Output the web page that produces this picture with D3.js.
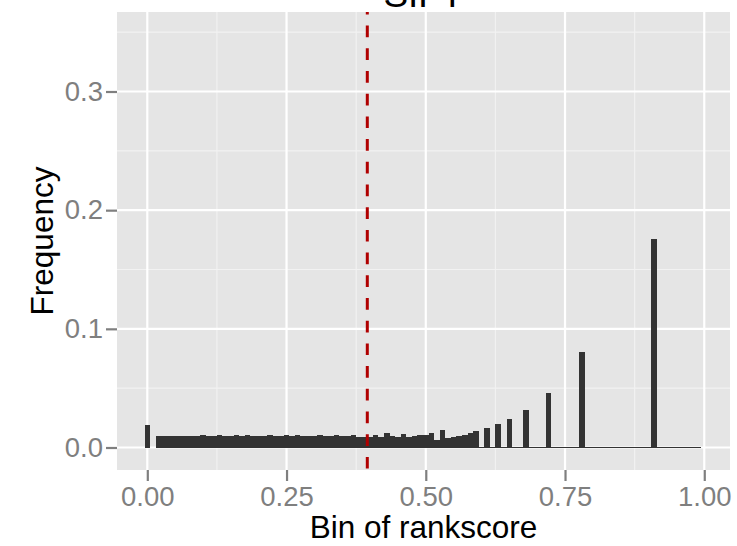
<!DOCTYPE html>
<html>
<head>
<meta charset="utf-8">
<script src="https://cdn.jsdelivr.net/npm/d3@7"></script>
<style>
  html, body { margin: 0; padding: 0; background: #ffffff; }
  svg { display: block; font-family: "Liberation Sans", Arial, Helvetica, sans-serif; }
</style>
</head>
<body>
<svg id="chart" width="737" height="546"></svg>
<script>
// Bin centres of the rankscore histogram (bin width 0.01)
const binCenters = [
  0.00,
  0.02, 0.03, 0.04, 0.05, 0.06, 0.07, 0.08, 0.09,
  0.10, 0.11, 0.12, 0.13, 0.14, 0.15, 0.16, 0.17, 0.18, 0.19,
  0.20, 0.21, 0.22, 0.23, 0.24, 0.25, 0.26, 0.27, 0.28, 0.29,
  0.30, 0.31, 0.32, 0.33, 0.34, 0.35, 0.36, 0.37, 0.38, 0.39,
  0.40, 0.41, 0.42, 0.43, 0.44, 0.45, 0.46, 0.47, 0.48, 0.49,
  0.50, 0.51, 0.52, 0.53, 0.54, 0.55, 0.56, 0.57, 0.58, 0.59,
  0.60, 0.61, 0.62, 0.63, 0.64, 0.65, 0.66, 0.67, 0.68, 0.69,
  0.70, 0.71, 0.72, 0.73, 0.74, 0.75, 0.76, 0.77, 0.78, 0.79,
  0.80, 0.81, 0.82, 0.83, 0.84, 0.85, 0.86, 0.87, 0.88, 0.89,
  0.90, 0.91, 0.92, 0.93, 0.94, 0.95, 0.96, 0.97, 0.98, 0.99
];

// Relative frequency of each bin
const frequency = [
  0.0190,
  0.0096, 0.0096, 0.0096, 0.0096, 0.0096, 0.0096, 0.0096, 0.0096,
  0.0106, 0.0096, 0.0096, 0.0106, 0.0096, 0.0096, 0.0106, 0.0096, 0.0106, 0.0096,
  0.0096, 0.0096, 0.0106, 0.0096, 0.0096, 0.0106, 0.0096, 0.0106, 0.0096, 0.0096,
  0.0096, 0.0106, 0.0096, 0.0096, 0.0106, 0.0096, 0.0096, 0.0106, 0.0092, 0.0088,
  0.0092, 0.0106, 0.0088, 0.0125, 0.0100, 0.0088, 0.0110, 0.0090, 0.0100, 0.0103,
  0.0103, 0.0125, 0.0063, 0.0147, 0.0077, 0.0088, 0.0097, 0.0108, 0.0125, 0.0139,
  0.0008, 0.0164, 0.0008, 0.0201, 0.0008, 0.0240, 0.0008, 0.0008, 0.0316, 0.0008,
  0.0008, 0.0008, 0.0459, 0.0008, 0.0008, 0.0008, 0.0008, 0.0008, 0.0805, 0.0008,
  0.0008, 0.0008, 0.0008, 0.0008, 0.0008, 0.0008, 0.0008, 0.0008, 0.0008, 0.0008,
  0.0008, 0.1757, 0.0008, 0.0008, 0.0008, 0.0008, 0.0008, 0.0008, 0.0008, 0.0008
];

const binWidth = 0.01;
const cutoff = 0.395;               // reference threshold (dashed line)

const xTicks = [0, 0.25, 0.5, 0.75, 1];
const xTickLabels = ["0.00", "0.25", "0.50", "0.75", "1.00"];
const xMinor = [0.125, 0.375, 0.625, 0.875];
const yTicks = [0, 0.1, 0.2, 0.3];
const yTickLabels = ["0.0", "0.1", "0.2", "0.3"];
const yMinor = [0.05, 0.15, 0.25, 0.35];

const titleText = "SIFT";
const xTitle = "Bin of rankscore";
const yTitle = "Frequency";

const data = binCenters.map((c, i) => ({ c, v: frequency[i] }));

const panel = { left: 117, right: 730, top: 12, bottom: 470 };

const x = d3.scaleLinear().domain([-0.0544, 1.0462]).range([panel.left, panel.right]);
const y = d3.scaleLinear().domain([-0.01896, 0.36700]).range([panel.bottom, panel.top]);

const svg = d3.select("#chart");

// panel background
svg.append("rect")
  .attr("x", panel.left).attr("y", panel.top)
  .attr("width", panel.right - panel.left)
  .attr("height", panel.bottom - panel.top)
  .attr("fill", "#E5E5E5");

const grid = svg.append("g");
// minor grid
grid.selectAll("line.xminor").data(xMinor).join("line")
  .attr("x1", d => x(d)).attr("x2", d => x(d))
  .attr("y1", panel.top).attr("y2", panel.bottom)
  .attr("stroke", "#F2F2F2").attr("stroke-width", 1.1);
grid.selectAll("line.yminor").data(yMinor).join("line")
  .attr("y1", d => y(d)).attr("y2", d => y(d))
  .attr("x1", panel.left).attr("x2", panel.right)
  .attr("stroke", "#F2F2F2").attr("stroke-width", 1.1);
// major grid
grid.selectAll("line.xmajor").data(xTicks).join("line")
  .attr("x1", d => x(d)).attr("x2", d => x(d))
  .attr("y1", panel.top).attr("y2", panel.bottom)
  .attr("stroke", "#FFFFFF").attr("stroke-width", 2.2);
grid.selectAll("line.ymajor").data(yTicks).join("line")
  .attr("y1", d => y(d)).attr("y2", d => y(d))
  .attr("x1", panel.left).attr("x2", panel.right)
  .attr("stroke", "#FFFFFF").attr("stroke-width", 2.2);

// histogram bars
svg.append("g").selectAll("rect").data(data).join("rect")
  .attr("x", d => x(d.c - binWidth / 2))
  .attr("width", d => x(d.c + binWidth / 2) - x(d.c - binWidth / 2))
  .attr("y", d => y(d.v))
  .attr("height", d => y(0) - y(d.v))
  .attr("fill", "#333333")
  .attr("shape-rendering", "crispEdges");

// cutoff line
svg.append("line")
  .attr("x1", x(cutoff)).attr("x2", x(cutoff))
  .attr("y1", panel.top).attr("y2", panel.bottom)
  .attr("stroke", "#B00000")
  .attr("stroke-width", 3)
  .attr("stroke-dasharray", "11.7,11")
  .attr("stroke-dashoffset", 9.1);

// axes
const xAxis = d3.axisBottom(x).tickValues(xTicks)
  .tickFormat((d, i) => xTickLabels[i]).tickSize(11).tickPadding(5);
const gx = svg.append("g").attr("transform", `translate(0,${panel.bottom})`).call(xAxis);
gx.select(".domain").remove();
gx.selectAll(".tick line").attr("stroke", "#7F7F7F").attr("stroke-width", 2.2);
gx.selectAll(".tick text").attr("fill", "#7F7F7F").attr("font-size", 27.5)
  .attr("font-family", "Liberation Sans, Arial, sans-serif");

const yAxis = d3.axisLeft(y).tickValues(yTicks)
  .tickFormat((d, i) => yTickLabels[i]).tickSize(11).tickPadding(3);
const gy = svg.append("g").attr("transform", `translate(${panel.left},0)`).call(yAxis);
gy.select(".domain").remove();
gy.selectAll(".tick line").attr("stroke", "#7F7F7F").attr("stroke-width", 2.2);
gy.selectAll(".tick text").attr("fill", "#7F7F7F").attr("font-size", 27.5)
  .attr("font-family", "Liberation Sans, Arial, sans-serif");

// titles
svg.append("text")
  .attr("x", (panel.left + panel.right) / 2).attr("y", 7)
  .attr("text-anchor", "middle").attr("font-size", 37).attr("fill", "#000")
  .text(titleText);

svg.append("text")
  .attr("x", (panel.left + panel.right) / 2).attr("y", 538)
  .attr("text-anchor", "middle").attr("font-size", 31.5).attr("fill", "#000")
  .text(xTitle);

svg.append("text")
  .attr("transform", `translate(53,${(panel.top + panel.bottom) / 2}) rotate(-90)`)
  .attr("text-anchor", "middle").attr("font-size", 31.5).attr("fill", "#000")
  .text(yTitle);
</script>
</body>
</html>
